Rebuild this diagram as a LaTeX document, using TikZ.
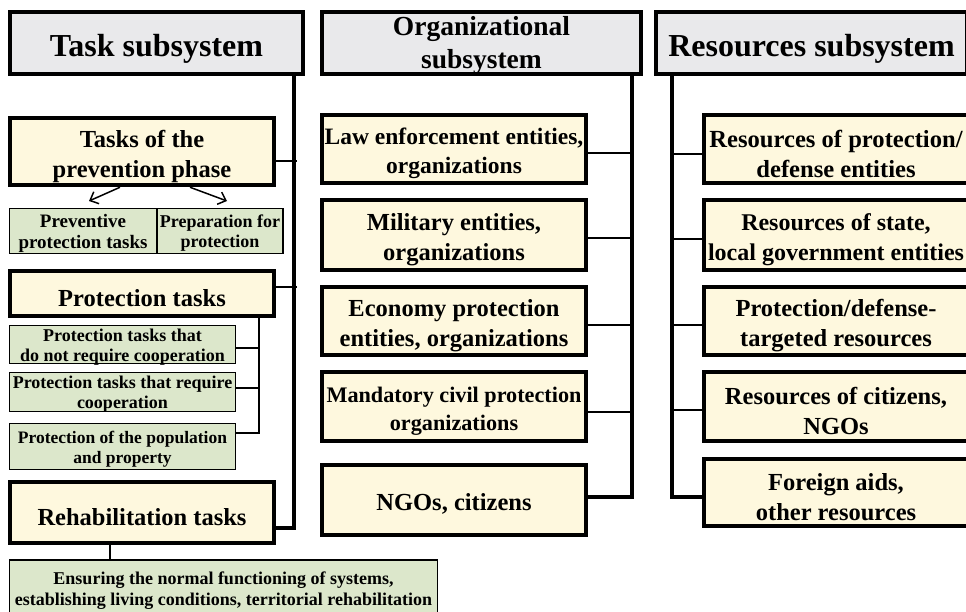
\documentclass[tikz,border=0pt]{standalone}
\usepackage{fontspec}
\setmainfont{Liberation Serif}
\usetikzlibrary{arrows.meta}
\definecolor{hdrgray}{RGB}{233,233,235}
\definecolor{cream}{RGB}{254,248,222}
\definecolor{sage}{RGB}{220,231,203}
\newcommand{\ys}{\rule{0pt}{1.05em}}
\newcommand{\ym}{\rule{0pt}{1.1em}}
\newcommand{\hm}{\rule{0pt}{0.84em}}
\newcommand{\gm}{\rule{0pt}{0.97em}}
\begin{document}
\begin{tikzpicture}[x=1pt,y=-1pt,
  boxbase/.style={draw, align=center, inner xsep=0pt, inner ysep=-8pt},
  hdr/.style={boxbase, line width=4pt, fill=hdrgray, font=\bfseries\fontsize{32}{34}\selectfont, minimum height=62pt},
  ybox/.style={boxbase, line width=4.5pt, fill=cream, font=\bfseries\fontsize{24.5}{30}\selectfont, minimum width=264pt},
  gbox/.style={boxbase, line width=1.5pt, fill=sage, font=\bfseries\fontsize{18}{20}\selectfont},
  trunk/.style={line width=4pt},
  twig/.style={line width=1.5pt},
  arr/.style={line width=1.5pt, -{Straight Barb[length=7pt,width=13pt,line width=1.5pt]}}]
\clip (0,0) rectangle (966,611);
\fill[white] (0,0) rectangle (966,611);

% headers
\node[hdr, minimum width=293pt] (th) at (156.5,43) {\ys Task subsystem};
\node[hdr, minimum width=319pt, font=\bfseries\fontsize{27.5}{33}\selectfont] (oh) at (481.5,43) {\hm Organizational\\subsystem};
\node[hdr, minimum width=311pt] (rh) at (811.5,43) {\ys Resources subsystem};

% task column
\node[ybox, minimum height=67pt] (tp) at (142,151.5) {\ym Tasks of the\\prevention phase};
\node[gbox, minimum width=147pt, minimum height=45pt, font=\bfseries\fontsize{19}{21}\selectfont] (pv) at (83,231) {\gm Preventive\\protection tasks};
\node[gbox, minimum width=126pt, minimum height=45pt] (pp) at (220,231) {\gm Preparation for\\protection};
\node[ybox, minimum height=45pt] (pt) at (142,293.5) {\ys Protection tasks};
\node[gbox, minimum width=226pt, minimum height=38pt] (pa) at (122.5,344.5) {\gm Protection tasks that\\do not require cooperation};
\node[gbox, minimum width=226pt, minimum height=39pt] (pb) at (122.5,392) {\gm Protection tasks that require\\cooperation};
\node[gbox, minimum width=226pt, minimum height=46pt, font=\bfseries\fontsize{17.5}{20}\selectfont] (pc) at (122.5,446.5) {\gm Protection of the population\\and property};
\node[ybox, minimum height=61pt] (rt) at (142,512.5) {\ys Rehabilitation tasks};
\node[gbox, minimum width=428pt, minimum height=61pt, line width=1.8pt, font=\bfseries\fontsize{18}{21}\selectfont] (rb) at (223.5,590.5) {Ensuring the normal functioning of systems,\\establishing living conditions, territorial rehabilitation};

% organizational column
\node[ybox, minimum height=68pt, font=\bfseries\fontsize{23.5}{29}\selectfont] (o1) at (454,149) {\ym Law enforcement entities,\\organizations};
\node[ybox, minimum height=70pt] (o2) at (454,235) {\ym Military entities,\\organizations};
\node[ybox, minimum height=68pt] (o3) at (454,321) {\ym Economy protection\\entities, organizations};
\node[ybox, minimum height=69pt, font=\bfseries\fontsize{22.2}{28}\selectfont] (o4) at (454,406.5) {\ym Mandatory civil protection\\organizations};
\node[ybox, minimum height=70pt] (o5) at (454,500) {\ys NGOs, citizens};

% resources column
\node[ybox, minimum height=68pt, font=\bfseries\fontsize{24.6}{30}\selectfont] (r1) at (836,149) {\ym Resources of protection/\\defense entities};
\node[ybox, minimum height=70pt, font=\bfseries\fontsize{24}{30}\selectfont] (r2) at (836,235) {\ym Resources of state,\\local government entities};
\node[ybox, minimum height=68pt] (r3) at (836,321) {\ym Protection/defense-\\targeted resources};
\node[ybox, minimum height=69pt] (r4) at (836,406.5) {\ym Resources of citizens,\\NGOs};
\node[ybox, minimum height=67pt] (r5) at (836,492.5) {\ym Foreign aids,\\other resources};

% task connectors
\coordinate (tk) at (294,528);
\draw[trunk] (th.south -| tk) -- (tk) -- (rt.east |- tk);
\coordinate (t1) at (297,161);
\coordinate (t2) at (297,287);
\draw[twig] (tp.east |- t1) -- (t1);
\draw[twig] (pt.east |- t2) -- (t2);
\coordinate (a1) at (89,201);
\coordinate (a2) at (227,201);
\draw[arr] (tp.south -| 120,0) -- (a1);
\draw[arr] (tp.south -| 190,0) -- (a2);
\coordinate (pk) at (259,433);
\draw[twig] (pt.south -| pk) -- (pk) -- (pc.east |- pk);
\draw[twig] (pa.east |- 0,348) -- (pk |- 0,348);
\draw[twig] (pb.east |- 0,388) -- (pk |- 0,388);
\draw[twig] (rt.south -| 110,0) -- (rb.north -| 110,0);

% organizational connectors
\coordinate (ok) at (632,497);
\draw[trunk] (oh.south -| ok) -- (ok) -- (o5.east |- ok);
\foreach \n/\yy in {o1/153, o2/238, o3/325, o4/412}
  \draw[twig] (\n.east |- 0,\yy) -- (632,\yy);

% resources connectors
\coordinate (rk) at (672,497);
\draw[trunk] (rh.south -| rk) -- (rk) -- (r5.west |- rk);
\foreach \n/\yy in {r1/154, r2/239, r3/325, r4/410}
  \draw[twig] (672,\yy) -- (\n.west |- 0,\yy);
\end{tikzpicture}
\end{document}
